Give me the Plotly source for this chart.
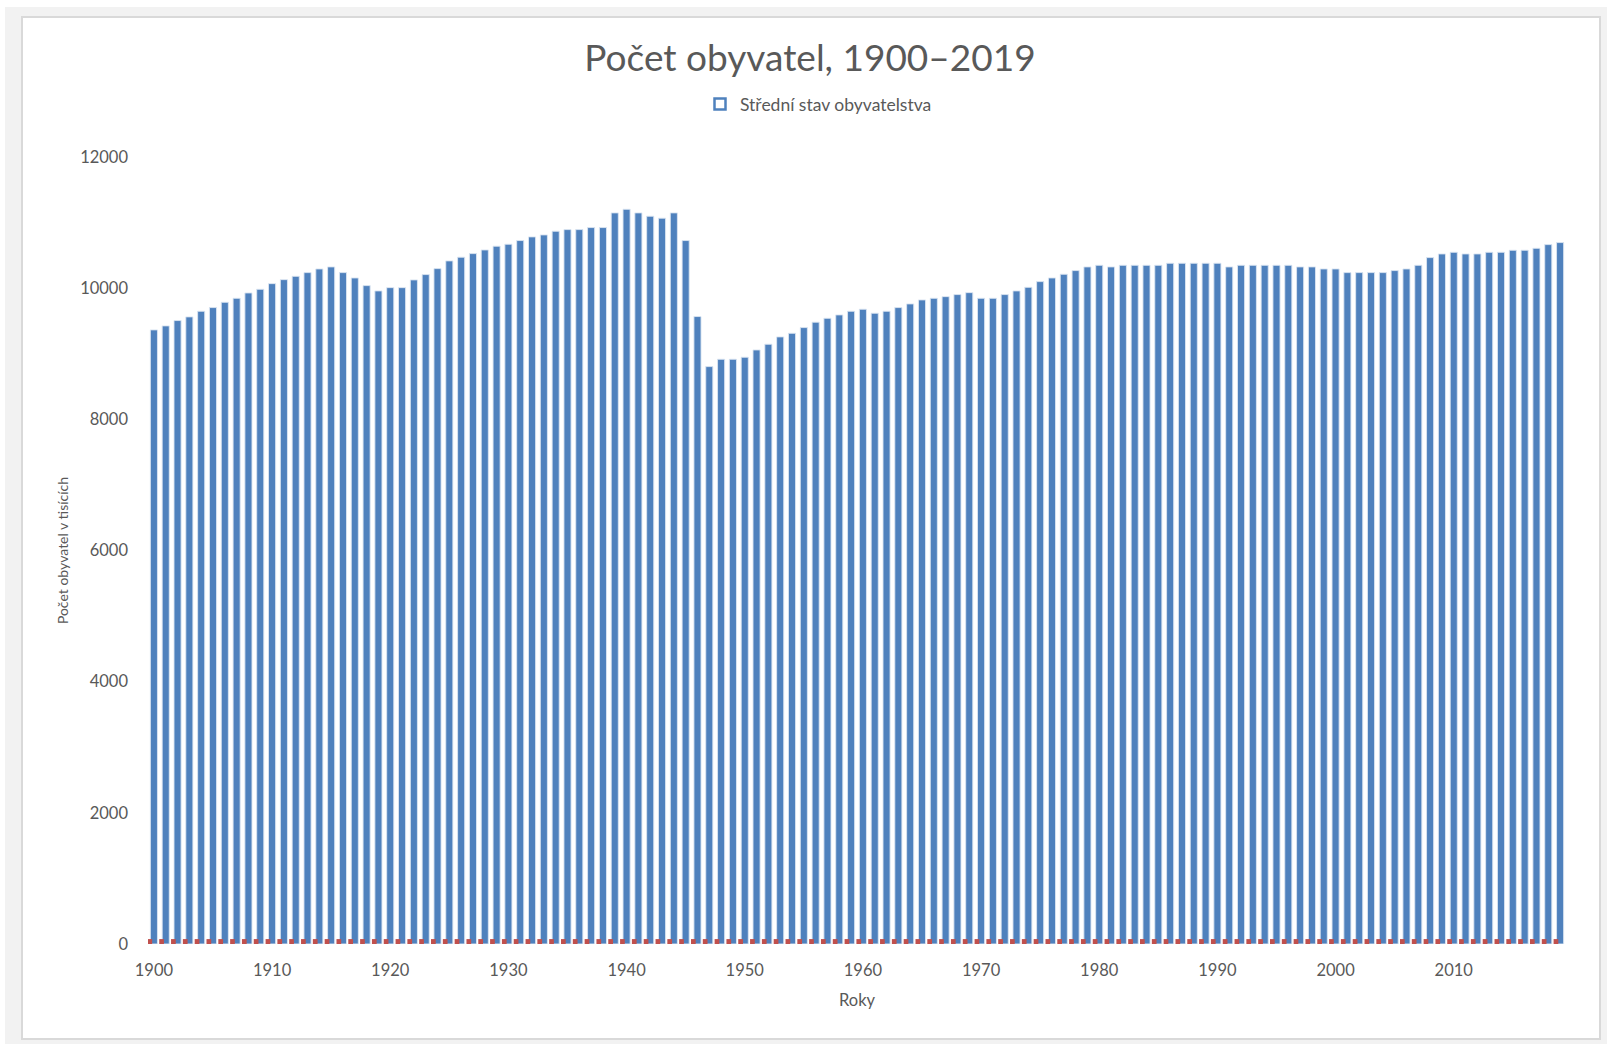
import plotly.graph_objects as go

years = list(range(1900, 2020))

population = [
    9364, 9425, 9506, 9562, 9648, 9704, 9785, 9846, 9927, 9983,
    10069, 10130, 10181, 10237, 10293, 10324, 10237, 10156, 10039, 9958,
    10008, 10008, 10126, 10207, 10298, 10416, 10472, 10527, 10583, 10640,
    10670, 10726, 10782, 10812, 10868, 10893, 10893, 10924, 10924, 11148,
    11203, 11148, 11097, 11067, 11148, 10726, 9567, 8804, 8916, 8916,
    8947, 9058, 9145, 9257, 9312, 9399, 9481, 9541, 9592, 9648,
    9679, 9618, 9648, 9704, 9760, 9821, 9846, 9871, 9902, 9932,
    9846, 9846, 9902, 9958, 10013, 10100, 10156, 10212, 10268, 10324,
    10349, 10324, 10349, 10349, 10349, 10349, 10380, 10380, 10380, 10380,
    10380, 10324, 10349, 10349, 10349, 10349, 10349, 10324, 10324, 10293,
    10293, 10237, 10237, 10237, 10237, 10268, 10293, 10349, 10466, 10522,
    10547, 10522, 10522, 10547, 10547, 10578, 10578, 10608, 10664, 10695,
]

# second (unlabelled) series, only a few pixels tall in the reference
second_series = [
    75, 75, 75, 75, 75, 75, 75, 75, 75, 75,
    75, 75, 75, 75, 75, 75, 75, 75, 75, 75,
    75, 75, 75, 75, 75, 75, 75, 75, 75, 75,
    75, 75, 75, 75, 75, 75, 75, 75, 75, 75,
    75, 75, 75, 75, 75, 75, 75, 75, 75, 75,
    75, 75, 75, 75, 75, 75, 75, 75, 75, 75,
    75, 75, 75, 75, 75, 75, 75, 75, 75, 75,
    75, 75, 75, 75, 75, 75, 75, 75, 75, 75,
    75, 75, 75, 75, 75, 75, 75, 75, 75, 75,
    75, 75, 75, 75, 75, 75, 75, 75, 75, 75,
    75, 75, 75, 75, 75, 75, 75, 75, 75, 75,
    75, 75, 75, 75, 75, 75, 75, 75, 75, 75,
]

x_tick_years = [1900, 1910, 1920, 1930, 1940, 1950, 1960, 1970, 1980, 1990, 2000, 2010]
x_tick_labels = [str(y) for y in x_tick_years]
y_tick_vals = [0, 2000, 4000, 6000, 8000, 10000, 12000]
y_tick_labels = [str(v) for v in y_tick_vals]

title_text = "Počet obyvatel, 1900–2019"
series_name = "Střední stav obyvatelstva"
x_title = "Roky"
y_title = "Počet obyvatel v tisících"

FONT = "Lato, 'Open Sans', sans-serif"
GREY = "#595959"
BLUE = "#4F81BD"

W, H = 1607, 1044
L, R, T, B = 148, 41, 157, 100
pw, ph = W - L - R, H - T - B


def px(p):
    return (p - L) / pw


def py(q):
    return (H - B - q) / ph


fig = go.Figure()
fig.add_trace(go.Bar(
    x=years, y=population, name=series_name,
    width=0.6, offset=-0.3,
    marker=dict(color=BLUE, line=dict(color="rgba(220,230,242,0.9)", width=1)),
    showlegend=False,
))
fig.add_trace(go.Bar(
    x=years, y=second_series, name="",
    width=0.4, offset=-0.55,
    marker=dict(color="#C0504D", line=dict(width=0)),
    showlegend=False,
))
# legend entry (hollow square like the reference)
fig.add_trace(go.Scatter(
    x=[None], y=[None], mode="markers", name=series_name,
    marker=dict(symbol="square-open", size=11, color=BLUE, line=dict(width=2.5, color=BLUE)),
    showlegend=True,
))

fig.update_layout(
    width=W, height=H,
    barmode="overlay",
    margin=dict(l=L, r=R, t=T, b=B),
    paper_bgcolor="white",
    plot_bgcolor="rgba(0,0,0,0)",
    font=dict(family=FONT, color=GREY, size=14),
    title=dict(text=title_text, x=px(810), xref="paper", xanchor="center",
               y=1 - 58 / H, yanchor="middle", yref="container",
               font=dict(family=FONT, size=37, color=GREY)),
    legend=dict(orientation="h", x=px(700), xanchor="left", y=py(104), yanchor="middle",
                font=dict(family=FONT, size=17.5, color=GREY),
                bgcolor="rgba(0,0,0,0)", itemwidth=30),
    xaxis=dict(range=[1899.5, 2019.5], tickmode="array", tickvals=x_tick_years,
               ticktext=x_tick_labels, showgrid=False, zeroline=False, showline=False,
               ticks="", tickfont=dict(size=16.5, color=GREY), ticklabelstandoff=14,
               title=dict(text=x_title, font=dict(size=16.5, color=GREY), standoff=15)),
    yaxis=dict(range=[0, 12000], tickmode="array", tickvals=y_tick_vals,
               ticktext=y_tick_labels, showgrid=False, zeroline=False, showline=False,
               ticks="", tickfont=dict(size=16.5, color=GREY), ticklabelstandoff=19,
               title=dict(text=y_title, font=dict(size=14, color=GREY), standoff=8)),
    shapes=[
        dict(type="rect", xref="paper", yref="paper", layer="below",
             x0=px(5), x1=px(1607), y0=py(1044), y1=py(7),
             fillcolor="#F2F2F2", line=dict(width=0)),
        dict(type="rect", xref="paper", yref="paper", layer="below",
             x0=px(22), x1=px(1600), y0=py(1039), y1=py(17),
             fillcolor="white", line=dict(color="#D9D9D9", width=2)),
    ],
)

fig.write_html("out.html", config={"displayModeBar": False},
               post_script="document.body.style.margin='0px';")
